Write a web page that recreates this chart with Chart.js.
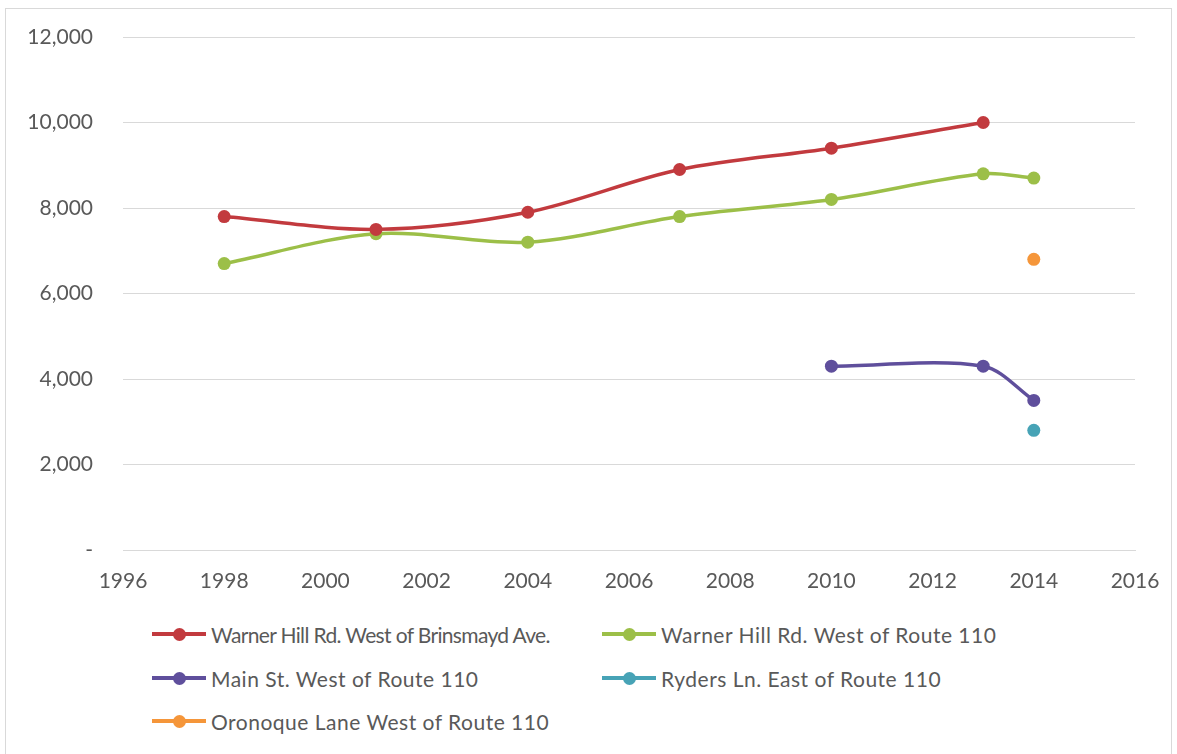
<!DOCTYPE html>
<html lang="en">
<head>
  <meta charset="UTF-8">
  <title>Traffic Volumes</title>
  <script src="https://cdn.jsdelivr.net/npm/chart.js"></script>
  <style>
    body { margin: 0; background: #fff; font-family: Lato, "Liberation Sans", sans-serif; }
    .frame { position: absolute; left: 5px; top: 8px; width: 1165px; height: 760px; border: 1px solid #d9d9d9; }
    .chart-wrap { position: absolute; left: 0; top: 0; width: 1177px; height: 610px; }
    .legend-item { position: absolute; display: flex; align-items: center; color: #595959; font-size: 21px; letter-spacing: 0.5px; white-space: nowrap; }
    .marker { position: relative; width: 54px; height: 13px; margin-right: 5px; }
    .marker .ln { position: absolute; left: 0; right: 0; top: 4.5px; height: 4px; }
    .marker .dot { position: absolute; left: 21px; top: 0; width: 13px; height: 13px; border-radius: 50%; }
  </style>
</head>
<body>
  <div class="frame"></div>
  <div class="chart-wrap"><canvas id="volumeChart"></canvas></div>
  <div id="legend"></div>

  <script>
  // Yearly traffic counts per location
  const yearsBrinsmayd = [1998, 2001, 2004, 2007, 2010, 2013];
  const warnerBrinsmayd = [7800, 7500, 7900, 8900, 9400, 10000];

  const yearsWarner110 = [1998, 2001, 2004, 2007, 2010, 2013, 2014];
  const warnerRoute110 = [6700, 7400, 7200, 7800, 8200, 8800, 8700];

  const yearsMain = [2010, 2013, 2014];
  const mainStRoute110 = [4300, 4300, 3500];

  const yearsRyders = [2014];
  const rydersRoute110 = [2800];

  const yearsOronoque = [2014];
  const oronoqueRoute110 = [6800];

  const seriesNames = [
    "Warner Hill Rd. West of Brinsmayd Ave.",
    "Warner Hill Rd. West of Route 110",
    "Main St. West of Route 110",
    "Ryders Ln. East of Route 110",
    "Oronoque Lane West of Route 110"
  ];
  const seriesColors = ["#c23a3e", "#9cbf48", "#5f4f9c", "#47a3b6", "#f5963a"];

  const toPoints = (xs, ys) => xs.map((x, i) => ({ x: x, y: ys[i] }));

  const seriesData = [
    toPoints(yearsBrinsmayd, warnerBrinsmayd),
    toPoints(yearsWarner110, warnerRoute110),
    toPoints(yearsMain, mainStRoute110),
    toPoints(yearsRyders, rydersRoute110),
    toPoints(yearsOronoque, oronoqueRoute110)
  ];

  const tickFont = { family: 'Lato, "Liberation Sans", sans-serif', size: 21 };

  new Chart(document.getElementById("volumeChart"), {
    type: 'line',
    data: {
      datasets: seriesData.map((pts, i) => ({
        label: seriesNames[i],
        data: pts,
        borderColor: seriesColors[i],
        backgroundColor: seriesColors[i],
        borderWidth: 3.5,
        pointRadius: 6.5,
        pointHoverRadius: 6.5,
        pointBorderWidth: 0,
        tension: 0.32,
        fill: false
      }))
    },
    options: {
      responsive: true,
      maintainAspectRatio: false,
      animation: false,
      layout: { padding: { left: 0, right: 42, top: 37, bottom: 0 } },
      plugins: { legend: { display: false }, tooltip: { enabled: false } },
      scales: {
        x: {
          type: 'linear',
          min: 1996,
          max: 2016,
          ticks: {
            stepSize: 2,
            color: '#595959',
            font: tickFont,
            padding: 19,
            callback: v => String(v)
          },
          grid: { display: false, drawTicks: false },
          border: { display: true, color: '#d9d9d9', width: 1 },
          // fixed size; the layout padding alone decides the plot edges
          afterFit: s => { s.height = 60; s.paddingLeft = 0; s.paddingRight = 0; }
        },
        y: {
          min: 0,
          max: 12000,
          ticks: {
            stepSize: 2000,
            color: '#595959',
            font: tickFont,
            padding: 30,
            callback: v => v === 0 ? '-' : v.toLocaleString('en-US')
          },
          grid: { color: '#d9d9d9', lineWidth: 1, drawTicks: false },
          border: { display: false },
          afterFit: s => { s.width = 123; s.paddingTop = 0; s.paddingBottom = 0; }
        }
      }
    }
  });

  // Legend laid out in two columns below the plot
  const legendSlots = [
    { left: 152, top: 634, spacing: -0.65 },
    { left: 602, top: 634 },
    { left: 152, top: 678 },
    { left: 602, top: 678 },
    { left: 152, top: 721 }
  ];
  const legend = document.getElementById("legend");
  seriesNames.forEach((name, i) => {
    const slot = legendSlots[i];
    const item = document.createElement("div");
    item.className = "legend-item";
    item.style.left = slot.left + "px";
    item.style.top = (slot.top - 13) + "px";
    item.style.height = "26px";
    item.innerHTML =
      `<span class="marker"><span class="ln" style="background:${seriesColors[i]}"></span>` +
      `<span class="dot" style="background:${seriesColors[i]}"></span></span>` +
      `<span${slot.spacing !== undefined ? ` style="letter-spacing:${slot.spacing}px"` : ''}>${name}</span>`;
    legend.appendChild(item);
  });
  </script>
</body>
</html>
